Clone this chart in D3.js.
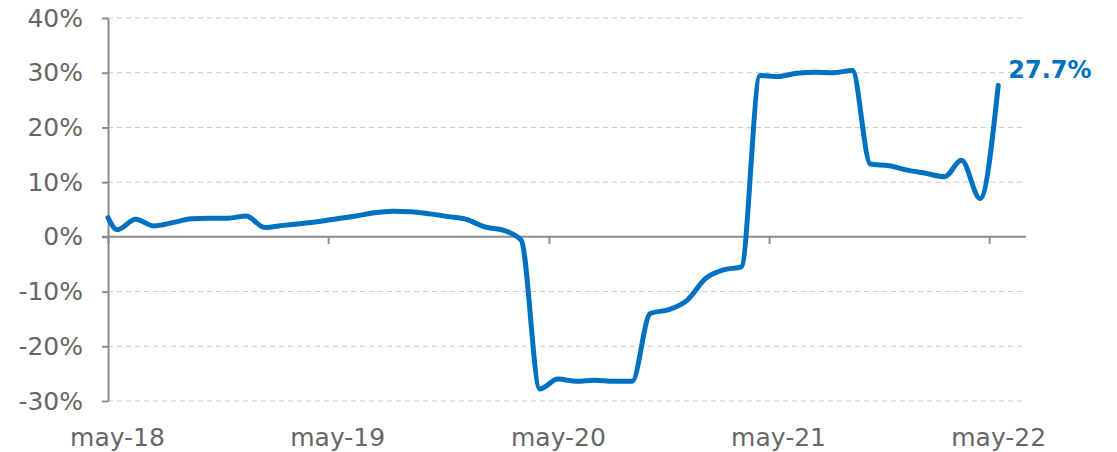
<!DOCTYPE html>
<meta charset="utf-8">
<style>
body {
  margin: 0;
  background: #fff;
  font-family: "DejaVu Sans", sans-serif;
}
.grid line {
  stroke: #c9c9c9;
  stroke-width: 1;
  stroke-dasharray: 5,4;
}
.axis path, .axis line {
  stroke: #8c8c8c;
  stroke-width: 2;
}
.axis text {
  fill: #666;
  font-size: 25px;
  font-family: "DejaVu Sans", sans-serif;
}
</style>
<body>
<script src="https://cdn.jsdelivr.net/npm/d3@7"></script>
<script>

var width = 1117,
    height = 452;

// tick labels on the time axis
var xTickLabels = ["may-18", "may-19", "may-20", "may-21", "may-22"];
var yTicks = [-30, -20, -10, 0, 10, 20, 30, 40];

// first reading at start of may-18, then one reading per month (mid month)
var startValue = 3.5;
var values = [
  1.3, 3.2, 2.0, 2.6, 3.3, 3.4, 3.4, 3.8, 1.7, 2.1, 2.4, 2.8,      // may-18 .. apr-19
  3.3, 3.8, 4.4, 4.7, 4.6, 4.2, 3.7, 3.2, 1.8, 1.2, -0.6, -27.8,   // may-19 .. apr-20
  -26.0, -26.4, -26.2, -26.4, -26.4, -14.0, -13.3, -11.6, -7.6, -6.0, -5.5, 29.5, // may-20 .. apr-21
  29.3, 29.9, 30.1, 30.0, 30.4, 13.3, 13.0, 12.2, 11.6, 11.0, 14.0, 7.0,           // may-21 .. apr-22
  27.7                                                              // may-22
];

var parse = d3.timeParse("%Y-%m-%d");
var months = d3.timeMonth.range(parse("2018-05-01"), parse("2022-06-01"));
var data = [{date: parse("2018-05-01"), value: startValue}].concat(
  values.map(function(v, i) { return {date: d3.timeDay.offset(months[i], 15), value: v}; })
);
var tickDates = d3.timeYear.range(parse("2018-01-01"), parse("2023-01-01"))
  .map(function(d) { return d3.timeMonth.offset(d, 4); });

var x = d3.scaleTime()
  .domain([parse("2018-05-01"), parse("2022-07-01")])
  .range([108, 1026]);

var y = d3.scaleLinear()
  .domain([-30, 40])
  .range([401, 18]);

var svg = d3.select("body").append("svg")
    .attr("width", width)
    .attr("height", height);

svg.append("g")
    .attr("class", "grid")
  .selectAll("line")
    .data(yTicks.filter(function(d) { return d !== 0; }))
  .enter().append("line")
    .attr("x1", x.range()[0])
    .attr("x2", x.range()[1])
    .attr("y1", function(d) { return y(d); })
    .attr("y2", function(d) { return y(d); });

svg.append("g")
    .attr("class", "axis")
    .attr("transform", "translate(" + x.range()[0] + ",0)")
    .call(d3.axisLeft(y)
      .tickValues(yTicks)
      .tickSize(6)
      .tickSizeOuter(0)
      .tickPadding(19)
      .tickFormat(function(d) { return d + "%"; }));

var xAxis = svg.append("g")
    .attr("class", "axis")
    .attr("transform", "translate(0," + y(0) + ")")
    .call(d3.axisBottom(x)
      .tickValues(tickDates)
      .tickSize(7)
      .tickSizeOuter(0)
      .tickFormat(function(d, i) { return xTickLabels[i]; }));

xAxis.select(".domain").attr("d", "M" + (x.range()[0] - 6) + ",0H" + x.range()[1]);
xAxis.selectAll(".tick text")
    .attr("x", 9)
    .attr("y", 209)
    .attr("dy", 0);

var line = d3.line()
    .x(function(d) { return x(d.date); })
    .y(function(d) { return y(d.value); })
    .curve(d3.curveMonotoneX);

svg.append("path")
    .datum(data)
    .attr("fill", "none")
    .attr("stroke", "#0070c0")
    .attr("stroke-width", 5)
    .attr("stroke-linejoin", "round")
    .attr("stroke-linecap", "round")
    .attr("d", line);

var last = data[data.length - 1];
svg.append("text")
    .attr("x", x(last.date) + 10)
    .attr("y", y(last.value) - 7)
    .attr("fill", "#0070c0")
    .style("font-size", "24px")
    .style("font-weight", "bold")
    .text(last.value.toFixed(1) + "%");

</script>
